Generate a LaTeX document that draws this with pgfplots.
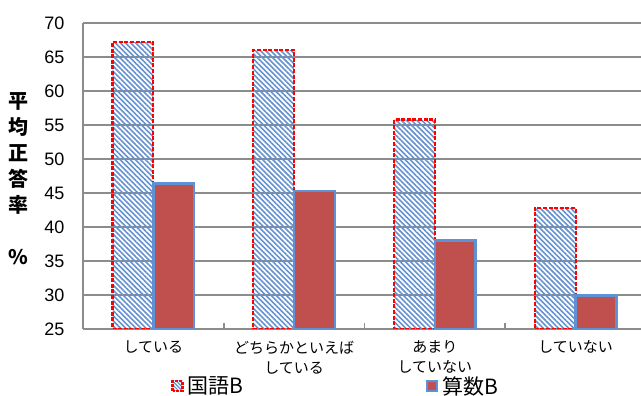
\documentclass[border=0pt]{standalone}
\usepackage{fontspec}
\setmainfont{Liberation Sans}
\newfontfamily\jp{Noto Sans CJK JP}
\usepackage{pgfplots}
\pgfplotsset{compat=1.18}
\usetikzlibrary{patterns.meta}

\definecolor{stripe}{RGB}{100,145,208}
\definecolor{sanred}{RGB}{192,80,77}
\definecolor{sanedge}{RGB}{95,145,212}
\definecolor{gridgray}{RGB}{140,140,140}

\begin{document}
\begin{tikzpicture}
\begin{axis}[
  at={(83pt,67pt)}, anchor=south west,
  scale only axis, width=563pt, height=306pt,
  xmin=-0.5, xmax=3.5, ymin=25, ymax=70,
  axis x line=bottom, axis y line=left,
  axis line style={gridgray, line width=2.2pt, -},
  ytick={25,30,...,70},
  ymajorgrids, major grid style={gridgray, line width=1.8pt},
  y tick style={draw=none},
  x tick style={draw=none},
  /pgf/number format/assume math mode=true,
  yticklabel style={font=\fontsize{18}{20}\selectfont, xshift=-13pt},
  xtick={0,1,2,3},
  xticklabels={している, どちらかといえば\\している, あまり\\していない, していない},
  xticklabel style={font=\jp\fontsize{15}{20}\selectfont, align=center, anchor=north, yshift=-4pt},
  extra x ticks={0.5,1.5,2.5},
  extra x tick labels={},
  extra x tick style={grid=none, tick align=inside, major tick length=6pt,
    x tick style={draw=gridgray, line width=1.8pt}},
  ylabel={\begin{tabular}{@{}c@{}}平\\均\\正\\答\\率\\ \\\%\end{tabular}},
  every axis y label/.style={at={(axis description cs:-0.115,0.484)}, anchor=center,
    font=\jp\bfseries\fontsize{20}{26}\selectfont},
  ybar, bar width=0.29,
  legend columns=2,
  legend style={draw=none, fill=none, at={(axis description cs:0.452,-0.186)}, anchor=center,
    font=\jp\fontsize{21}{22}\selectfont, inner sep=0pt,
    nodes={inner xsep=4.5pt, inner ysep=0pt},
    /tikz/every even column/.append style={column sep=178pt}},
  clip=true,
]
\addplot[bar shift=-0.145, draw=red, line width=2.2pt, dash pattern=on 4pt off 1.6pt,
  pattern={Lines[angle=-45,distance=3.6pt,line width=1.6pt]}, pattern color=stripe,
  legend image code/.code={\draw[draw=red, line width=2.6pt, dash pattern=on 3pt off 1.2pt,
    pattern={Lines[angle=-45,distance=2.6pt,line width=1.2pt]}, pattern color=stripe]
    (0pt,-5pt) rectangle (10pt,5pt);}]
  coordinates {(0,67.2) (1,66.0) (2,55.8) (3,42.8)};
\addlegendentry{国語B}
\addplot[bar shift=0.145, draw=sanedge, line width=2.6pt, fill=sanred,
  legend image code/.code={\draw[draw=sanedge, line width=2.2pt, fill=sanred]
    (0pt,-5pt) rectangle (10pt,5pt);}]
  coordinates {(0,46.4) (1,45.3) (2,38.0) (3,29.9)};
\addlegendentry{算数B}
\end{axis}
\pgfresetboundingbox
\useasboundingbox (0,0) rectangle (641pt,396pt);
\end{tikzpicture}
\end{document}
